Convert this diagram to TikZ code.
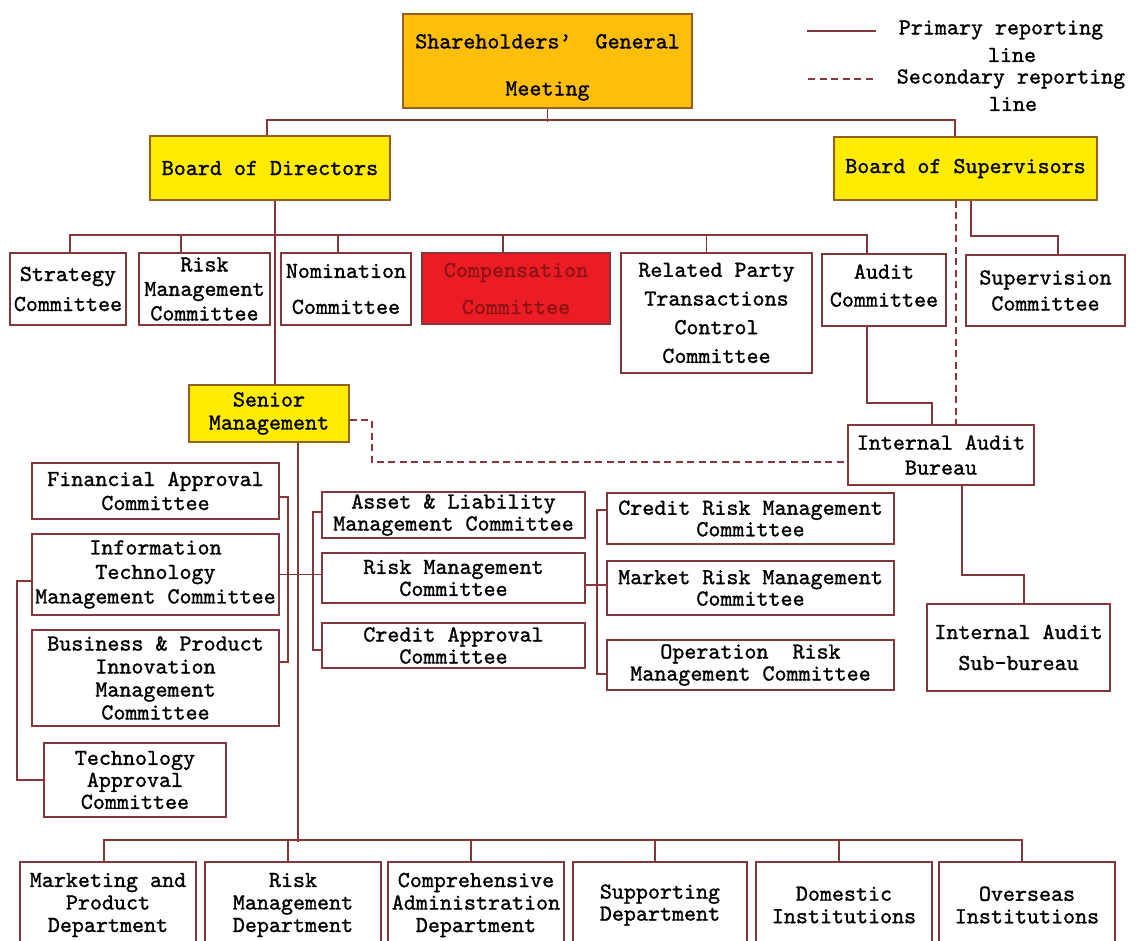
\documentclass[tikz,border=0pt]{standalone}
\usepackage{fontspec}
\setmainfont{lmmono10-regular.otf}[FakeBold=1.2]
\definecolor{lc}{RGB}{135,55,60}
\definecolor{sgmfill}{RGB}{255,190,10}
\definecolor{yel}{RGB}{255,236,0}
\definecolor{redfill}{RGB}{236,28,36}
\definecolor{redtxt}{RGB}{140,20,20}
\definecolor{bordb}{RGB}{150,95,40}
\begin{document}
\begin{tikzpicture}[x=1pt,y=-1pt,
  box/.style={draw=lc, line width=1.6pt, fill=white, inner sep=0pt, align=center, text=black},
  ls/.style={font=\fontsize{22.9pt}{#1pt}\selectfont},
  ln/.style={draw=lc, line width=1.8pt},
  dl/.style={draw=lc, line width=1.6pt, dash pattern=on 7pt off 4.5pt},
  lbl/.style={inner sep=0pt, ls=28}]
\useasboundingbox (0,0) rectangle (1137,940);
\fill[white] (0,0) rectangle (1137,940);

% top level
\node[box,fill=sgmfill,draw=bordb,ls=47,minimum width=289,minimum height=94] (sgm) at (547.5,61) {\rule{0pt}{27pt}Shareholders’\ \ General\\Meeting};
\node[box,fill=yel,draw=bordb,ls=28,minimum width=240,minimum height=64] (bod) at (270,168) {Board of Directors};
\node[box,fill=yel,draw=bordb,ls=28,minimum width=263,minimum height=63] (bos) at (965.5,168.5) {Board of Supervisors};

% board committees
\node[box,ls=30,minimum width=116,minimum height=72] (strat) at (68,289) {Strategy\\Committee};
\node[box,ls=24.5,minimum width=131,minimum height=72] (rmca) at (204.5,289) {Risk\\Management\\Committee};
\node[box,ls=36,minimum width=130,minimum height=72] (nom) at (346,289) {Nomination\\Committee};
\node[box,ls=37,fill=redfill,text=redtxt,minimum width=188,minimum height=71] (comp) at (516,288.5) {Compensation\\Committee};
\node[box,ls=28.7,minimum width=191,minimum height=120] (rel) at (716.5,313) {Related Party\\Transactions\\Control\\Committee};
\node[box,ls=28,minimum width=124,minimum height=72] (aud) at (884,290) {Audit\\Committee\rule[-9pt]{0pt}{1pt}};
\node[box,ls=26,minimum width=159,minimum height=71] (sup) at (1045.5,290.5) {Supervision\\Committee};

% senior management and audit
\node[box,fill=yel,draw=bordb,ls=23,minimum width=160,minimum height=57] (sen) at (269,413.5) {Senior\\Management};
\node[box,ls=25,minimum width=186,minimum height=60] (iab) at (941,455) {Internal Audit\\Bureau};
\node[box,ls=31,minimum width=183,minimum height=87] (sub) at (1018.5,647.5) {Internal Audit\\Sub-bureau};

% left committees
\node[box,ls=24,minimum width=247,minimum height=56] (fin) at (155.5,491) {Financial Approval\\Committee};
\node[box,ls=24.5,minimum width=247,minimum height=81] (itm) at (155.5,574.5) {Information\\Technology\\Management Committee};
\node[box,ls=23,minimum width=247,minimum height=96] (biz) at (155.5,678) {Business \& Product\\Innovation\\Management\\Committee};
\node[box,ls=22,minimum width=182,minimum height=74] (tech) at (135,780) {Technology\\Approval\\Committee};

% centre committees
\node[box,ls=22,minimum width=263,minimum height=46] (alm) at (453.5,515) {Asset \& Liability\\Management Committee};
\node[box,ls=22,minimum width=263,minimum height=50] (rmcb) at (453.5,578) {Risk Management\\Committee};
\node[box,ls=22,minimum width=263,minimum height=45] (cap) at (453.5,645.5) {Credit Approval\\Committee};

% right committees
\node[box,ls=21.5,minimum width=287,minimum height=51] (crm) at (750.5,518.5) {Credit Risk Management\\Committee};
\node[box,ls=21.5,minimum width=287,minimum height=54] (mrm) at (750.5,588) {Market Risk Management\\Committee};
\node[box,ls=22,minimum width=287,minimum height=50] (orm) at (750.5,665) {Operation\ \ Risk\\Management Committee};

% departments
\node[box,ls=22.5,minimum width=176,minimum height=86] (da) at (108,905) {Marketing and\\Product\\Department};
\node[box,ls=22.5,minimum width=176,minimum height=86] (db) at (293,905) {Risk\\Management\\Department};
\node[box,ls=22.5,minimum width=176,minimum height=86] (dc) at (476,905) {Comprehensive\\Administration\\Department};
\node[box,ls=22,minimum width=174,minimum height=86] (dd) at (660,905) {Supporting\\Department};
\node[box,ls=22.5,minimum width=176,minimum height=86] (de) at (844,905) {Domestic\\Institutions};
\node[box,ls=22.5,minimum width=176,minimum height=86] (df) at (1027,905) {Overseas\\Institutions};

% legend
\coordinate (la) at (807,31);
\coordinate (lb) at (876,31);
\draw[ln] (la) -- (lb);
\node[lbl] (lta) at (1001,30) {Primary reporting};
\node[lbl] (ltb) at (1012,55) {line};
\coordinate (lc) at (808,79);
\coordinate (ld) at (876,79);
\draw[dl] (lc) -- (ld);
\node[lbl] (ltc) at (1011,79) {Secondary reporting};
\node[lbl] (ltd) at (1013,104) {line};

% connectors
\draw[ln] (sgm.south) -- ++(0,13);
\draw[ln] ([xshift=-3pt]bod.north) -- ++(0,-15) -| ([xshift=-10.5pt]bos.north);
\draw[ln] ([xshift=5pt]bod.south) -- ([xshift=6pt]sen.north);
\draw[ln] ([xshift=2pt]strat.north) -- ++(0,-17) -| ([xshift=-17pt]aud.north);
\foreach \n/\s in {rmca/-23.5, nom/-8, comp/-13, rel/-10}
  \draw[ln] ([xshift=\s pt]\n.north) -- ++(0,-17);
\draw[ln] ([xshift=5.5pt]bos.south) -- ++(0,35) -| ([xshift=12.5pt]sup.north);
\draw[dl] ([xshift=-9.5pt]bos.south) -- ([xshift=15pt]iab.north);
\draw[ln] ([xshift=-17pt]aud.south) -- ++(0,76) -| ([xshift=-9pt]iab.north);
\draw[ln] ([xshift=21pt]iab.south) -- ++(0,89) -| ([xshift=5.5pt]sub.north);
\draw[dl] ([yshift=-6.5pt]sen.east) -- ++(22,0) |- ([yshift=-7pt]iab.west);
\draw[ln] ([xshift=29pt]sen.south) -- ++(0,399);
\draw[ln] ([xshift=-4pt]da.north) -- ++(0,-21) -| ([xshift=-5pt]df.north);
\foreach \n in {db,dc,dd,de}
  \draw[ln] ([xshift=-5pt]\n.north) -- ++(0,-21);
\draw[ln] ([yshift=-6pt]fin.east) -- ++(8,0) |- ([yshift=16pt]biz.east);
\draw[ln] (itm.east) -- (itm.east -| rmcb.west);
\draw[ln] ([yshift=3pt]alm.west) -- ++(-8,0) |- ([yshift=-4.5pt]cap.west);
\draw[ln] ([yshift=-7pt]rmcb.east) -- ([yshift=3pt]mrm.west);
\draw[ln] ([yshift=8.5pt]crm.west) -- ++(-9,0) |- ([yshift=-9pt]orm.west);
\draw[ln] ([yshift=-6.5pt]itm.west) -- ++(-14,0) |- (tech.west);
\end{tikzpicture}
\end{document}
